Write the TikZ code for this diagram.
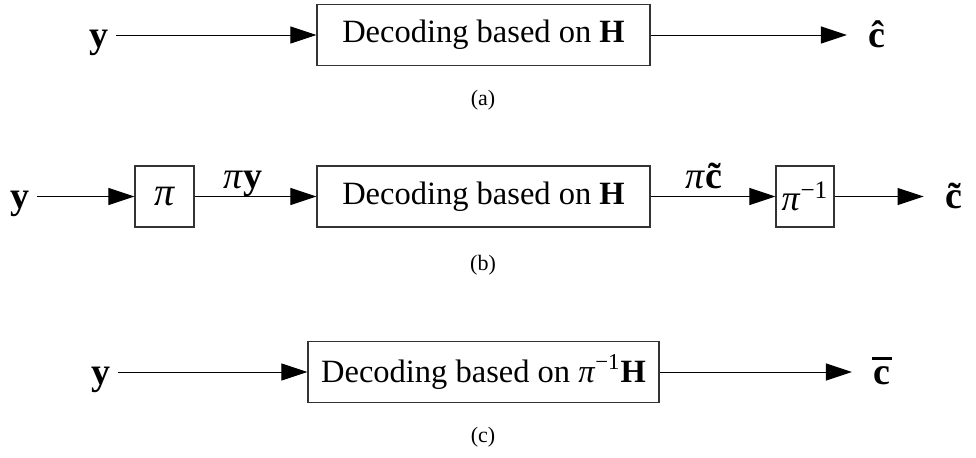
\documentclass[tikz,border=0pt]{standalone}
\usepackage{fontspec}
\setmainfont{Liberation Serif}
\usetikzlibrary{arrows.meta}

\newcommand{\pii}{\textit{π}}
\newcommand{\inv}{\textsuperscript{−1}}
\newcommand{\cbarre}{\makebox[0pt][l]{\hspace{-0.04em}\rule[0.64em]{0.53em}{0.07em}}\textbf{c}}

\begin{document}
\begin{tikzpicture}[
  x=0.5pt,y=-0.5pt,
  >={Triangle[length=13pt,width=8.5pt]},
  bloc/.style={draw=black!80,line width=0.6pt,inner sep=0pt,minimum height=30.5pt,
               font=\fontsize{16.25}{18}\selectfont},
  perm/.style={bloc,font=\fontsize{20}{22}\selectfont},
  sig/.style={font=\fontsize{19}{21}\selectfont,text height=14pt,text depth=2pt},
  sortie/.style={sig,outer sep=7.5pt},
  fl/.style={->,line width=0.5pt},
  legende/.style={font=\fontsize{11}{13}\selectfont},
]
  \useasboundingbox (0,0) rectangle (976,457);

  % (a) decodage direct
  \node[sig] (ya) at (99,35) {\textbf{y}};
  \node[bloc,minimum width=166.5pt] (Da) at (483.5,35) {Decoding based on \textbf{H}};
  \node[sortie] (ca) at (877,35) {\textbf{\^c}};
  \draw[fl] (ya) -- (Da);
  \draw[fl] (Da) -- (ca);
  \node[legende] (la) at (483,100) {(a)};

  % (b) avec permutation
  \node[sig] (yb) at (20,196.5) {\textbf{y}};
  \node[perm,minimum width=29.5pt] (Pb) at (164.5,196.5) {\pii};
  \node[bloc,minimum width=166.5pt] (Db) at (483.5,196.5) {Decoding based on \textbf{H}};
  \node[perm,minimum width=29pt,font=\fontsize{18}{20}\selectfont] (Qb) at (805,196.5) {\pii\inv};
  \node[sortie] (cb) at (960,196.5) {\textbf{\~c}};
  \node[sig] (py) at (243,176) {\pii\textbf{y}};
  \node[sig] (pc) at (710,176) {\pii\textbf{\~c}};
  \draw[fl] (yb) -- (Pb);
  \draw[fl] (Pb) -- (Db);
  \draw[fl] (Db) -- (Qb);
  \draw[fl] (Qb) -- (cb);
  \node[legende] (lb) at (483,265) {(b)};

  % (c) matrice permutee
  \node[sig] (yc) at (101,372) {\textbf{y}};
  \node[bloc,minimum width=175.5pt] (Dc) at (483.5,372) {Decoding based on \pii\inv\textbf{H}};
  \node[sortie] (cc) at (882,372) {\cbarre};
  \draw[fl] (yc) -- (Dc);
  \draw[fl] (Dc) -- (cc);
  \node[legende] (lc) at (483,437) {(c)};
\end{tikzpicture}
\end{document}
